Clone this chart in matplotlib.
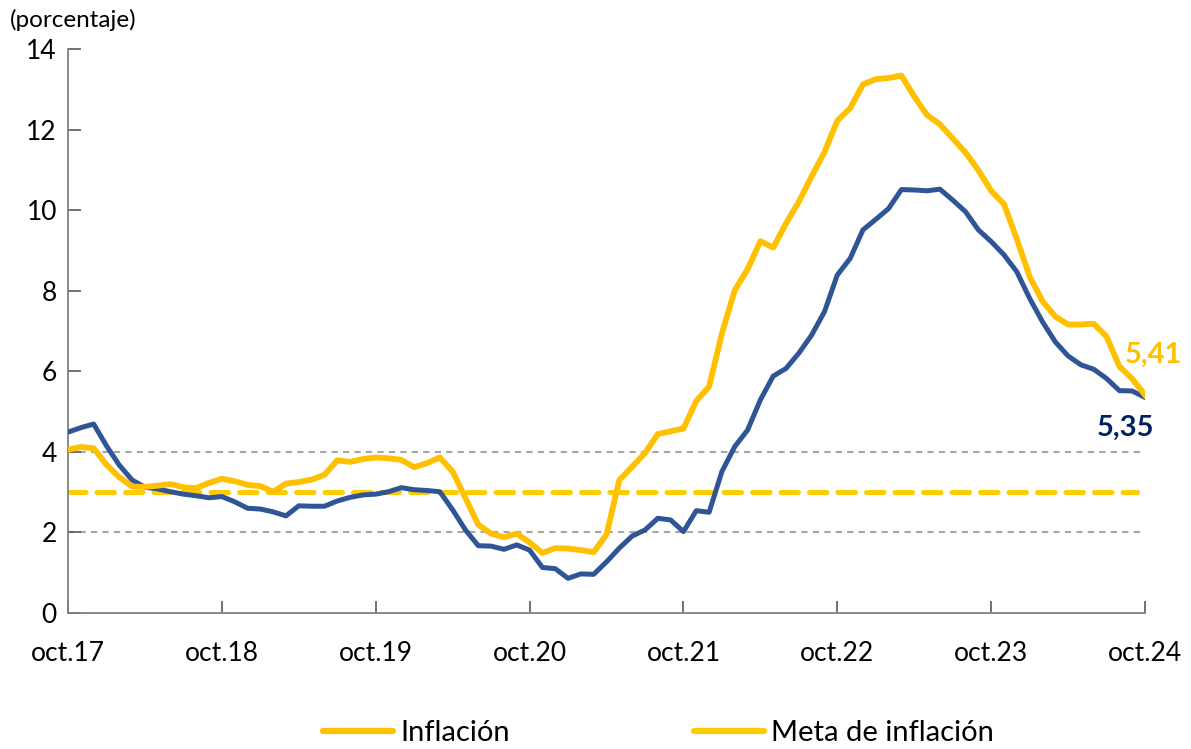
"""Inflación total y básica, oct.17 - oct.24."""

import matplotlib
matplotlib.use("Agg")
import matplotlib.pyplot as plt
import numpy as np

plt.rcParams["font.family"] = ["Lato", "DejaVu Sans"]

tick_labels = ["oct.17", "oct.18", "oct.19", "oct.20", "oct.21", "oct.22", "oct.23", "oct.24"]

# monthly values, oct.17 .. oct.24 (85 months)
inflacion = [
    4.05, 4.12, 4.09,
    3.68, 3.37, 3.14, 3.13, 3.16, 3.20, 3.12, 3.10, 3.23, 3.33, 3.27, 3.18,
    3.15, 3.01, 3.21, 3.25, 3.31, 3.43, 3.79, 3.75, 3.82, 3.86, 3.84, 3.80,
    3.62, 3.72, 3.86, 3.51, 2.85, 2.19, 1.97, 1.88, 1.97, 1.75, 1.49, 1.61,
    1.60, 1.56, 1.51, 1.95, 3.30, 3.63, 3.97, 4.44, 4.51, 4.58, 5.26, 5.62,
    6.94, 8.01, 8.53, 9.23, 9.07, 9.67, 10.21, 10.84, 11.44, 12.22, 12.53, 13.12,
    13.25, 13.28, 13.34, 12.82, 12.36, 12.13, 11.78, 11.43, 10.99, 10.48, 10.15, 9.28,
    8.35, 7.74, 7.36, 7.16, 7.16, 7.18, 6.86, 6.12, 5.81, 5.41,
]
basica = [
    4.49, 4.60, 4.69,
    4.15, 3.67, 3.30, 3.12, 3.08, 3.01, 2.95, 2.91, 2.86, 2.89, 2.76, 2.60,
    2.58, 2.51, 2.41, 2.66, 2.65, 2.65, 2.78, 2.87, 2.93, 2.95, 3.01, 3.11,
    3.06, 3.04, 3.01, 2.56, 2.06, 1.67, 1.66, 1.58, 1.69, 1.56, 1.13, 1.10,
    0.86, 0.97, 0.96, 1.27, 1.61, 1.91, 2.06, 2.35, 2.31, 2.02, 2.54, 2.50,
    3.51, 4.13, 4.54, 5.29, 5.88, 6.07, 6.45, 6.90, 7.48, 8.39, 8.80, 9.51,
    9.77, 10.04, 10.51, 10.50, 10.48, 10.52, 10.25, 9.96, 9.51, 9.22, 8.89, 8.47,
    7.81, 7.23, 6.73, 6.38, 6.16, 6.05, 5.82, 5.52, 5.51, 5.35,
]
meta = 3.0
rango = [2.0, 4.0]

YELLOW = "#FFC000"
META_YELLOW = "#FFCC00"
BLUE = "#2F5597"
NAVY = "#002060"
GREY = "#A6A6A6"

x = np.arange(len(inflacion))

fig = plt.figure(figsize=(11.91, 7.49), dpi=100)
ax = fig.add_axes([0.0571, 0.1816, 0.9043, 0.753])

for level in rango:
    ax.plot([0, x[-1] - 0.2], [level, level], color=GREY, lw=1.5, ls=(0, (3, 2.5)), zorder=1)
line_meta, = ax.plot([0, x[-1] - 0.6], [meta, meta], color=META_YELLOW, lw=3.6,
                     ls=(0, (3.5, 2.2)), dash_capstyle="round", zorder=2,
                     label="Meta de inflación")
ax.plot(x, basica, color=BLUE, lw=3.6, solid_joinstyle="round", zorder=3)
line_inf, = ax.plot(x, inflacion, color=YELLOW, lw=4.2, solid_joinstyle="round",
                    zorder=4, label="Inflación")

ax.text(x[-1] - 1.6, 6.40, f"{inflacion[-1]:.2f}".replace(".", ","),
        color=YELLOW, fontsize=21, fontweight="bold", ha="left", va="center")
ax.text(x[-1] - 1.5, 4.59, f"{basica[-1]:.2f}".replace(".", ","),
        color=NAVY, fontsize=21, fontweight="bold", ha="center", va="center")

ax.set_xlim(0, x[-1])
ax.set_ylim(0, 14)
ax.set_xticks(np.arange(0, len(x), 12), tick_labels)
ax.set_yticks(np.arange(0, 15, 2))
ax.tick_params(axis="x", direction="in", length=9, width=1.2, color="#595959",
               labelsize=19, pad=20)
ax.tick_params(axis="y", direction="in", length=9, width=1.2, color="#595959",
               labelsize=19, pad=8)
for side in ["top", "right"]:
    ax.spines[side].set_visible(False)
for side in ["left", "bottom"]:
    ax.spines[side].set_color("#808080")
    ax.spines[side].set_linewidth(1.3)

fig.text(0.008, 0.973, "(porcentaje)", fontsize=17.5, ha="left", va="center")

fig.legend(handles=[line_inf, line_meta], loc="center", bbox_to_anchor=(0.553, 0.021),
           ncol=2, frameon=False, fontsize=21, handlelength=2.4, columnspacing=6.3,
           handletextpad=0.25)
for handle in fig.legends[0].get_lines():
    handle.set_linestyle("-")
    handle.set_linewidth(4.5)
    handle.set_solid_capstyle("round")

fig.savefig("out.png", dpi=100)
